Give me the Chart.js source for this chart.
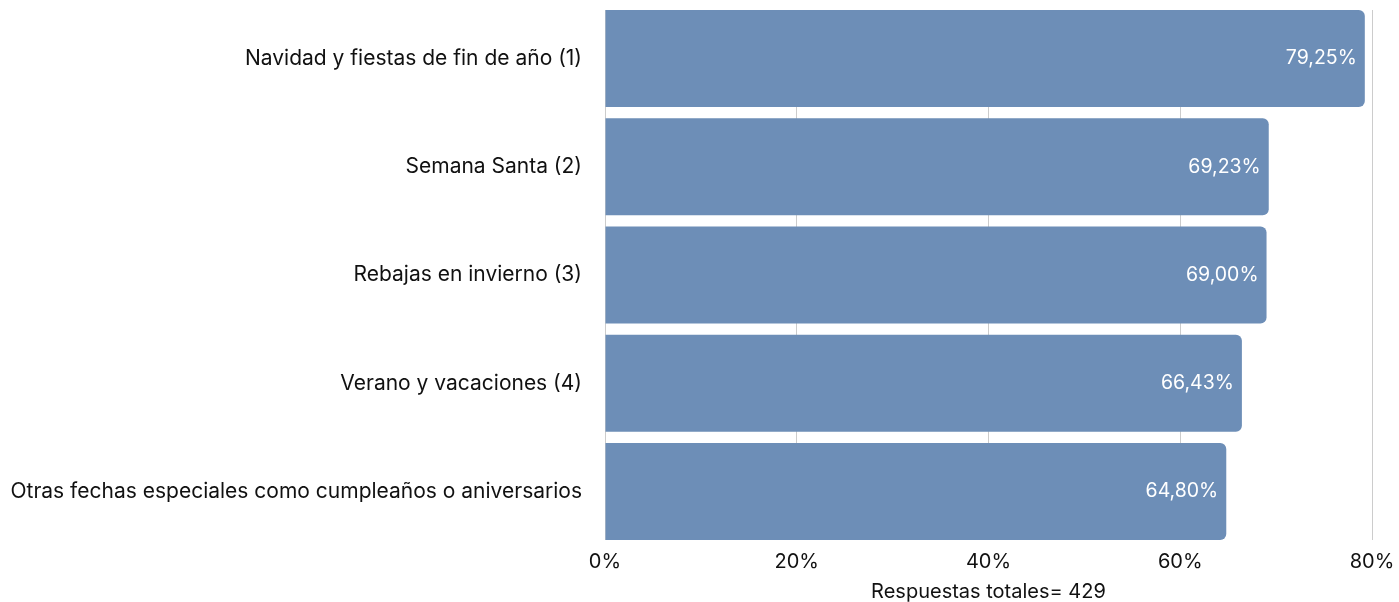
<!DOCTYPE html>
<html>
<head>
<meta charset="utf-8">
<script src="https://cdn.jsdelivr.net/npm/chart.js@4"></script>
<style>
  body { margin: 0; background: #fff; }
  #caja { width: 1399px; height: 602px; }
</style>
</head>
<body>
<div id="caja"><canvas id="grafico" width="1399" height="602"></canvas></div>
<script>
const categorias = [
  'Navidad y fiestas de fin de año (1)',
  'Semana Santa (2)',
  'Rebajas en invierno (3)',
  'Verano y vacaciones (4)',
  'Otras fechas especiales como cumpleaños o aniversarios',
];
const porcentajes = [79.25, 69.23, 69.0, 66.43, 64.8];
const marcasEje = [0, 20, 40, 60, 80];
const tituloEje = 'Respuestas totales= 429';

const fuente = 'Inter, "DejaVu Sans", sans-serif';

// etiquetas blancas dentro de cada barra
const etiquetasBarras = {
  id: 'etiquetasBarras',
  afterDatasetsDraw(chart) {
    const ctx = chart.ctx;
    const meta = chart.getDatasetMeta(0);
    ctx.save();
    ctx.fillStyle = '#ffffff';
    ctx.font = '19.5px ' + fuente;
    ctx.textAlign = 'right';
    ctx.textBaseline = 'middle';
    meta.data.forEach((barra, i) => {
      const texto = porcentajes[i].toFixed(2).replace('.', ',') + '%';
      ctx.fillText(texto, barra.x - 8, barra.y);
    });
    ctx.restore();
  },
};

function configurar() {
  const canvas = document.getElementById('grafico');
  new Chart(canvas, {
    type: 'bar',
    data: {
      labels: categorias,
      datasets: [
        {
          data: porcentajes,
          backgroundColor: '#6d8eb7',
          borderRadius: 6,
          categoryPercentage: 1,
          barPercentage: 0.896,
        },
      ],
    },
    options: {
      indexAxis: 'y',
      responsive: false,
      animation: false,
      layout: { padding: { top: 10, right: 27, left: 0, bottom: 0 } },
      plugins: {
        legend: { display: false },
        tooltip: { enabled: false },
      },
      scales: {
        x: {
          min: 0,
          max: 80,
          afterBuildTicks(scale) {
            scale.ticks = marcasEje.map((v) => ({ value: v }));
          },
          afterFit(scale) {
            scale.height = 62;
            scale.paddingLeft = 0;
            scale.paddingRight = 0;
          },
          grid: { color: '#cccccc', drawTicks: false },
          border: { display: false },
          ticks: {
            padding: 10,
            font: { size: 20, family: fuente },
            color: '#111111',
            callback: (v) => v + '%',
          },
          title: {
            display: true,
            text: tituloEje,
            font: { size: 20, family: fuente, lineHeight: 1 },
            color: '#111111',
            padding: { top: 6, bottom: 0 },
          },
        },
        y: {
          // las barras llegan casi hasta los bordes del área: estiro un poco el paso
          afterDataLimits(scale) {
            if (scale._estirado) return;
            scale._estirado = true;
            const original = scale.configure.bind(scale);
            scale.configure = function () {
              original();
              this._startValue = -0.448;
              this._valueRange = 4.896;
            };
          },
          afterFit(scale) {
            scale.width = 605;
            scale.paddingTop = 0;
            scale.paddingBottom = 0;
          },
          grid: { display: false },
          border: { display: false },
          ticks: {
            padding: 15,
            font: { size: 21, family: fuente },
            color: '#111111',
          },
        },
      },
    },
    plugins: [etiquetasBarras],
  });
}

document.addEventListener('DOMContentLoaded', configurar);
</script>
</body>
</html>
